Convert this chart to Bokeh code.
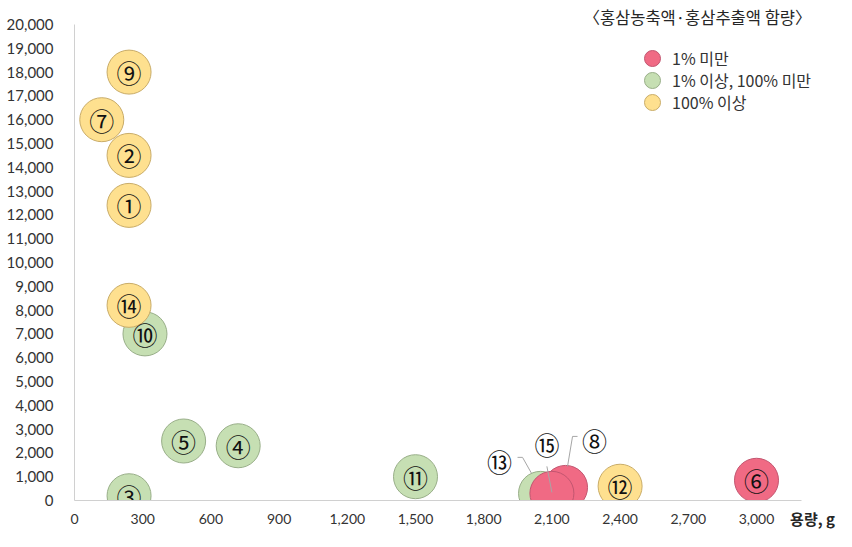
from bokeh.plotting import figure
from bokeh.models import ColumnDataSource, Label, Legend, LegendItem, FixedTicker, NumeralTickFormatter, Range1d
from bokeh.core.properties import value
from bokeh.embed import file_html
from bokeh.resources import INLINE

# ---- data ----
names = ["①", "②", "③", "④", "⑤", "⑥", "⑦", "⑧", "⑨", "⑩", "⑪", "⑫", "⑬", "⑭", "⑮"]
volume_g = [240, 240, 240, 720, 480, 3000, 120, 2160, 240, 310, 1500, 2400, 2050, 240, 2100]
price = [12400, 14500, 200, 2300, 2500, 850, 16000, 550, 18000, 7000, 1000, 600, 300, 8200, 300]
group = ["high", "high", "mid", "mid", "mid", "low", "high", "low", "high", "mid", "mid", "high", "mid", "high", "low"]
group_order = ["low", "mid", "high"]
group_labels = {"low": "1% 미만", "mid": "1% 이상, 100% 미만", "high": "100% 이상"}
x_ticks = [0, 300, 600, 900, 1200, 1500, 1800, 2100, 2400, 2700, 3000]
y_ticks = list(range(0, 20001, 1000))
x_axis_max = 3200
y_axis_max = 20000
title_text = "〈홍삼농축액·홍삼추출액 함량〉"
x_title = "용량, g"
# labels placed outside their bubble: name -> (label dx, dy) in screen px, leader path
callouts = {
    "⑬": ((-41, -32), [(-23, -36), (-18, -36), (-9, -20)]),
    "⑮": ((-5, -49), [(-5, -27), (0, -1)]),
    "⑧": ((29, -47), [(12, -51), (7, -51), (2, -21)]),
}

# ---- styles / layout ----
fill = {"low": "#F06A84", "mid": "#C6DFB3", "high": "#FEE08F"}
edge = {"low": "#C25670", "mid": "#98AE88", "high": "#C9AC68"}
KR = "Noto Sans CJK KR"
TICKF = "Lato"

W, H = 836, 531
BL, BR, BT, BB = 74, 24, 0, 31
FW, FH = W - BL - BR, H - BT - BB
ppx = 682 / 3000.0                 # px per gram
top_px = 24                        # pixel row of the top y tick
ppy = (FH - top_px) / y_axis_max   # px per unit
X1 = FW / ppx
Y1 = FH / ppy

p = figure(width=W, height=H, output_backend="svg", toolbar_location=None,
           x_range=Range1d(0, X1), y_range=Range1d(0, Y1),
           min_border_left=BL, min_border_right=BR, min_border_top=BT, min_border_bottom=BB)
p.outline_line_color = None
p.grid.visible = False
p.background_fill_color = "white"
p.border_fill_color = "white"

for ax, ticks in ((p.xaxis, x_ticks), (p.yaxis, y_ticks)):
    ax.ticker = FixedTicker(ticks=ticks)
    ax.formatter = NumeralTickFormatter(format="0,0")
    ax.axis_line_color = "#D0D0D0"
    ax.major_tick_line_color = None
    ax.minor_tick_line_color = None
    ax.major_label_text_font = TICKF
    ax.major_label_text_color = "#333333"
p.xaxis.major_label_text_font_size = "14px"
p.yaxis.major_label_text_font_size = "15px"
p.xaxis.bounds = (0, x_axis_max)
p.yaxis.bounds = (0, y_axis_max)
p.xaxis.major_label_standoff = 7
p.yaxis.major_label_standoff = 15

# x-axis title at the right end, at tick-label height
p.xaxis.axis_label = x_title
p.xaxis.axis_label_text_font = KR
p.xaxis.axis_label_text_font_size = "15px"
p.xaxis.axis_label_text_font_style = "bold"
p.xaxis.axis_label_text_color = "#262626"
p.xaxis.axis_label_align = "end"
p.xaxis.axis_label_standoff = -19

renderers = {}
for g in ["mid", "low", "high"]:
    idx = [i for i in range(len(names)) if group[i] == g]
    src = ColumnDataSource(dict(x=[volume_g[i] for i in idx], y=[price[i] for i in idx]))
    r = p.circle("x", "y", radius=22, radius_units="screen", source=src,
                 fill_color=fill[g], line_color=edge[g], line_width=1)
    renderers[g] = r

inside = [i for i in range(len(names)) if names[i] not in callouts]
src_in = ColumnDataSource(dict(x=[volume_g[i] for i in inside], y=[price[i] for i in inside],
                               t=[names[i] for i in inside]))
p.text("x", "y", text="t", source=src_in, text_align="center", text_baseline="middle",
       text_font=value(KR), text_font_size="25px", text_color="#111111")

for nm, (loff, path) in callouts.items():
    i = names.index(nm)
    xs = [volume_g[i] + dx / ppx for dx, dy in path]
    ys = [price[i] - dy / ppy for dx, dy in path]
    p.line(xs, ys, line_color="#A6A6A6", line_width=1)
    p.text([volume_g[i]], [price[i]], text=[nm], x_offset=loff[0], y_offset=loff[1],
           text_align="center", text_baseline="middle",
           text_font=value(KR), text_font_size="25px", text_color="#111111")

# legend: one single-row legend per group so that rows can sit closer than the glyph box
LG = 40
row_centers = [58, 80, 102]
glyph_cx = 652
for k, g in enumerate(group_order):
    lg = Legend(items=[LegendItem(label=group_labels[g], renderers=[renderers[g]])])
    lg.padding = 0
    lg.margin = 0
    lg.spacing = 0
    lg.glyph_width = LG
    lg.glyph_height = LG
    lg.label_height = LG
    lg.label_standoff = 0
    lg.location = (glyph_cx - LG // 2 - BL, FH - (row_centers[k] + LG // 2))
    lg.border_line_color = None
    lg.background_fill_alpha = 0
    lg.label_text_font = KR
    lg.label_text_font_size = "16px"
    lg.label_text_color = "#333333"
    p.add_layout(lg)

p.add_layout(Label(x=X1, y=Y1 - 16 / ppy, x_offset=-1, text=title_text,
                   text_align="right", text_baseline="middle",
                   text_font=KR, text_font_size="16.5px", text_color="#262626"))

open("out.html", "w").write(file_html(p, INLINE))
